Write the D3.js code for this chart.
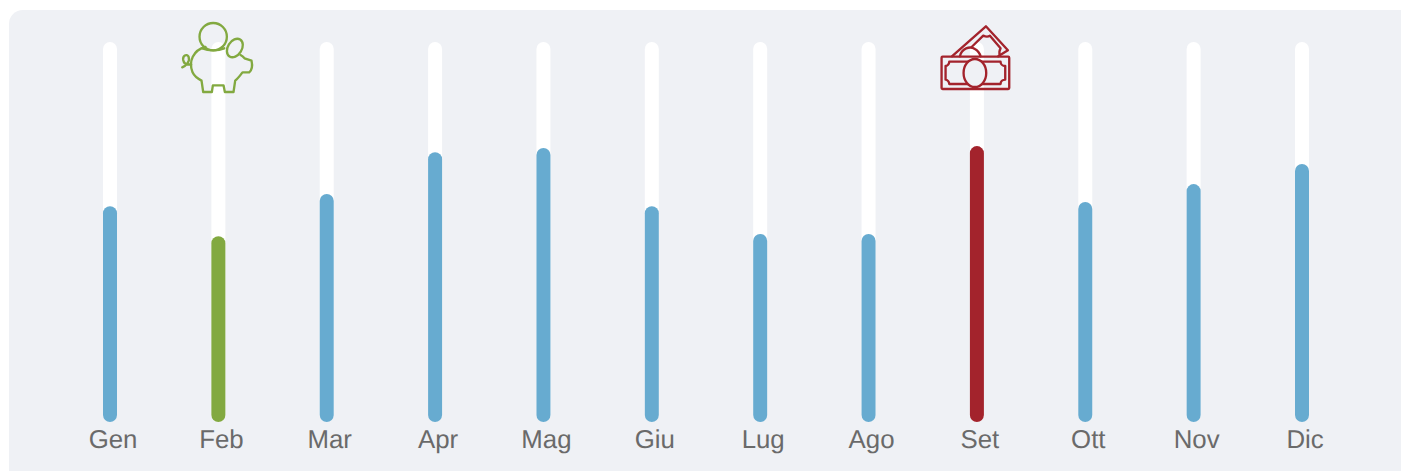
<!DOCTYPE html>
<html>
<head>
<meta charset="utf-8">
<script src="https://cdn.jsdelivr.net/npm/d3@7"></script>
<style>
	html, body { margin: 0; padding: 0; background: #fff; overflow: hidden; }
</style>
</head>
<body>
<div id="vis"></div>
<script>
// Set constants for frame and margins
const FRAME_WIDTH = 1401;
const FRAME_HEIGHT = 471;
const TRACK_TOP = 42;
const TRACK_BOTTOM = 422;
const BAR_WIDTH = 14;

// Data
const months = ["Gen", "Feb", "Mar", "Apr", "Mag", "Giu", "Lug", "Ago", "Set", "Ott", "Nov", "Dic"];
const values = [56.8, 48.9, 60, 71, 72.1, 56.8, 49.5, 49.5, 72.6, 57.9, 62.6, 67.9];
const lowMonth = "Feb";
const highMonth = "Set";

const FRAME = d3.select("#vis")
	.append("svg")
		.attr("width", FRAME_WIDTH)
		.attr("height", FRAME_HEIGHT)
		.style("display", "block");

// Panel behind the chart
FRAME.append("rect")
	.attr("x", 9)
	.attr("y", 10)
	.attr("width", FRAME_WIDTH + 6)
	.attr("height", FRAME_HEIGHT + 20)
	.attr("rx", 14)
	.attr("fill", "#eff1f5");

const X_SCALE = d3.scalePoint()
	.domain(months)
	.range([110, 1302]);

const Y_SCALE = d3.scaleLinear()
	.domain([0, 100])
	.range([TRACK_BOTTOM, TRACK_TOP]);

function barColor(m) {
	if (m === lowMonth) return "#82a940";
	if (m === highMonth) return "#a3232c";
	return "#67abd0";
}

// White tracks
FRAME.append("g")
	.selectAll("rect")
	.data(months)
	.enter()
	.append("rect")
		.attr("x", (d) => { return X_SCALE(d) - BAR_WIDTH / 2; })
		.attr("y", Y_SCALE(100))
		.attr("width", BAR_WIDTH)
		.attr("height", Y_SCALE(0) - Y_SCALE(100))
		.attr("rx", 7)
		.attr("fill", "#fff");

// Value bars
FRAME.append("g")
	.selectAll("rect")
	.data(months)
	.enter()
	.append("rect")
		.attr("x", (d) => { return X_SCALE(d) - BAR_WIDTH / 2; })
		.attr("y", (d, i) => { return Y_SCALE(values[i]); })
		.attr("width", BAR_WIDTH)
		.attr("height", (d, i) => { return Y_SCALE(0) - Y_SCALE(values[i]); })
		.attr("rx", 7)
		.attr("fill", barColor);

// Month labels, no axis line
const xAxis = FRAME.append("g")
	.attr("transform", "translate(3," + TRACK_BOTTOM + ")")
	.call(d3.axisBottom(X_SCALE).tickSize(0).tickPadding(0));
xAxis.select(".domain").remove();
xAxis.selectAll("text")
	.attr("x", -0.5)
	.attr("y", 26)
	.attr("dy", 0)
	.attr("fill", "#6a6a6a")
	.style("font-family", "'Liberation Sans', Arial, sans-serif")
	.style("font-size", "25.8px")
	.style("text-rendering", "geometricPrecision");

// Piggy bank icon, drawn at 3x and scaled down
const pig = FRAME.append("g")
	.attr("transform", "translate(" + (X_SCALE(lowMonth) - 48.5) + ",15) scale(0.3333)")
	.attr("fill", "none")
	.attr("stroke", "#82a940")
	.attr("stroke-width", 7)
	.attr("stroke-linejoin", "round")
	.attr("stroke-linecap", "round");
pig.append("circle").attr("cx", 130).attr("cy", 65).attr("r", 41);
pig.append("ellipse")
	.attr("cx", 195).attr("cy", 99).attr("rx", 21).attr("ry", 30)
	.attr("transform", "rotate(32 195 99)");
pig.append("path")
	.attr("d", "M107 96C70 105 55 140 68 172C75 187 85 192 95 197L100 231H126L129 211H161L165 231H191L196 197C205 190 212 180 218 172H238C246 165 248 150 245 137L224 130C220 125 216 122 212 120");
pig.append("path")
	.attr("d", "M98 100C115 108 145 108 163 100");
pig.append("path")
	.attr("d", "M37 157C48 152 62 140 56 125C50 115 38 122 40 135C42 146 52 150 64 148");

// Banknotes icon, drawn at 3x and scaled down
const bills = FRAME.append("g")
	.attr("transform", "translate(" + (X_SCALE(highMonth) - 47) + ",15) scale(0.3333)")
	.attr("fill", "none")
	.attr("stroke", "#a3232c")
	.attr("stroke-width", 7)
	.attr("stroke-linejoin", "round")
	.attr("stroke-linecap", "round");
bills.append("path")
	.attr("d", "M66 124L168 34L234 106L205 124");
bills.append("path")
	.attr("d", "M125 96L160 62C168 66 175 66 180 62L212 100C208 106 208 115 210 122");
bills.append("path")
	.attr("d", "M90 124C95 100 120 92 135 102C145 108 150 116 152 124");
bills.append("rect")
	.attr("x", 35).attr("y", 125).attr("width", 203).attr("height", 97).attr("rx", 3);
bills.append("path")
	.attr("d", "M58 140H212C212 147 218 153 226 153V194C218 194 212 200 212 207H58C58 200 52 194 47 194V153C52 153 58 147 58 140Z");
bills.append("ellipse")
	.attr("cx", 135).attr("cy", 174).attr("rx", 34).attr("ry", 42)
	.attr("fill", "#eff1f5");
</script>
</body>
</html>
